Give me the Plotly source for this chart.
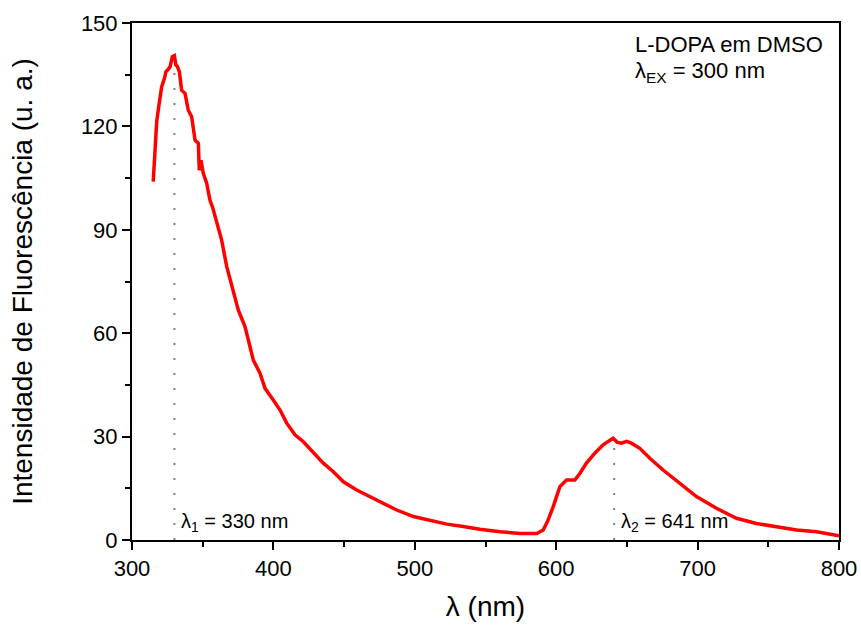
import plotly.graph_objects as go

# Emission spectrum of L-DOPA in DMSO (excitation 300 nm)
wavelength = [315, 316, 317.5, 319, 321, 323, 324, 325.5, 327, 328.5, 330, 331, 332, 333.5,
              335.1, 337.5, 339.8, 342.2, 344.6, 346.9, 347.6, 348.8, 350.4, 352.8, 355.2,
              357, 359.9, 363.4, 367, 371.6, 375.2, 379.9, 383.5, 385.8, 390.5, 394.1,
              399.9, 404.7, 409.4, 415.3, 421.2, 428.2, 435.3, 442.4, 449.5, 458.9, 468.3,
              475.4, 487.2, 499, 510.7, 522.6, 534.3, 546, 560.3, 574.4, 586.2, 590.8,
              594, 597.9, 602.6, 607.3, 613.2, 616.7, 621.4, 627.3, 633.2, 638, 640.2, 643,
              646.1, 649.8, 653.2, 659.1, 666.2, 675.6, 687.4, 699.2, 713.3, 727.5, 741.6,
              755.8, 770, 784.2, 796.2, 800]
intensity = [104, 110, 121.5, 126, 131.5, 134, 135.9, 136.5, 137.4, 140.2, 140.5, 137.8, 137.5,
             135.9, 130.5, 129.6, 124.7, 122.8, 116, 115.1, 107.3, 110.2, 106.4, 103.5, 98.5,
             96.5, 91.9, 87, 79.3, 72.5, 66.7, 61.9, 56.1, 52.2, 48.4, 44, 40.6, 37.7, 33.9,
             30.5, 28.5, 25.4, 22.3, 19.8, 16.9, 14.5, 12.6, 11.1, 8.7, 6.8, 5.6, 4.6, 3.9,
             3.1, 2.4, 1.9, 1.9, 2.9, 5.5, 9.7, 15.5, 17.4, 17.4, 19.3, 22.3, 25.2, 27.6,
             28.8, 29.5, 28.4, 28.1, 28.6, 28.1, 26.6, 23.7, 20.3, 16.4, 12.6, 9.2, 6.3,
             4.8, 3.9, 2.9, 2.4, 1.5, 1.2]

# Emission maxima
peak_wl = [330, 641]
peak_top = [138, 28]
peak_labels = ["λ<sub>1</sub> = 330 nm", "λ<sub>2</sub> = 641 nm"]

FONT = "Arial, Liberation Sans, sans-serif"
L, R, T, B = 132, 22, 23, 88
W, H = 861, 628

fig = go.Figure()

for wl, top in zip(peak_wl, peak_top):
    fig.add_trace(go.Scatter(
        x=[wl, wl], y=[0, top], mode="lines",
        line=dict(color="#808080", width=2, dash="2px,13px"),
        hoverinfo="skip", showlegend=False))

fig.add_trace(go.Scatter(
    x=wavelength, y=intensity, mode="lines",
    line=dict(color="#ff0000", width=3.5),
    showlegend=False))

for wl, label in zip(peak_wl, peak_labels):
    fig.add_annotation(x=wl, y=5, xref="x", yref="y", text=label, showarrow=False,
                       xanchor="left", yanchor="middle", xshift=5,
                       font=dict(family=FONT, size=20, color="black"))


def px_to_paper(px, py):
    return (px - L) / (W - L - R), 1 - (py - T) / (H - T - B)


for text, px, py in [("L-DOPA em DMSO", 633, 45), ("λ<sub>EX</sub> = 300 nm", 633, 72)]:
    xp, yp = px_to_paper(px, py)
    fig.add_annotation(x=xp, y=yp, xref="paper", yref="paper", text=text,
                       showarrow=False, xanchor="left", yanchor="middle",
                       font=dict(family=FONT, size=22, color="black"))

axis_common = dict(
    showgrid=False, zeroline=False, showline=True, linecolor="black", linewidth=2,
    mirror=True, ticks="outside", ticklen=8, tickwidth=2, tickcolor="black",
    tickfont=dict(family=FONT, size=22, color="black"), automargin=False,
)

fig.update_xaxes(range=[300, 800], tickvals=[300, 400, 500, 600, 700, 800],
                 minor=dict(tickvals=[350, 450, 550, 650, 750], ticks="outside",
                            ticklen=5, tickwidth=2, tickcolor="black"),
                 title=dict(text="λ (nm)", font=dict(family=FONT, size=28, color="black"),
                            standoff=16),
                 **axis_common)
fig.update_yaxes(range=[0, 150], tickvals=[0, 30, 60, 90, 120, 150],
                 minor=dict(tickvals=[15, 45, 75, 105, 135], ticks="outside",
                            ticklen=5, tickwidth=2, tickcolor="black"),
                 title=dict(text="Intensidade de Fluorescência (u. a.)",
                            font=dict(family=FONT, size=28, color="black"), standoff=40),
                 **axis_common)

fig.update_layout(
    width=W, height=H,
    margin=dict(l=L, r=R, t=T, b=B),
    plot_bgcolor="white", paper_bgcolor="white",
)

fig.write_html("out.html")
